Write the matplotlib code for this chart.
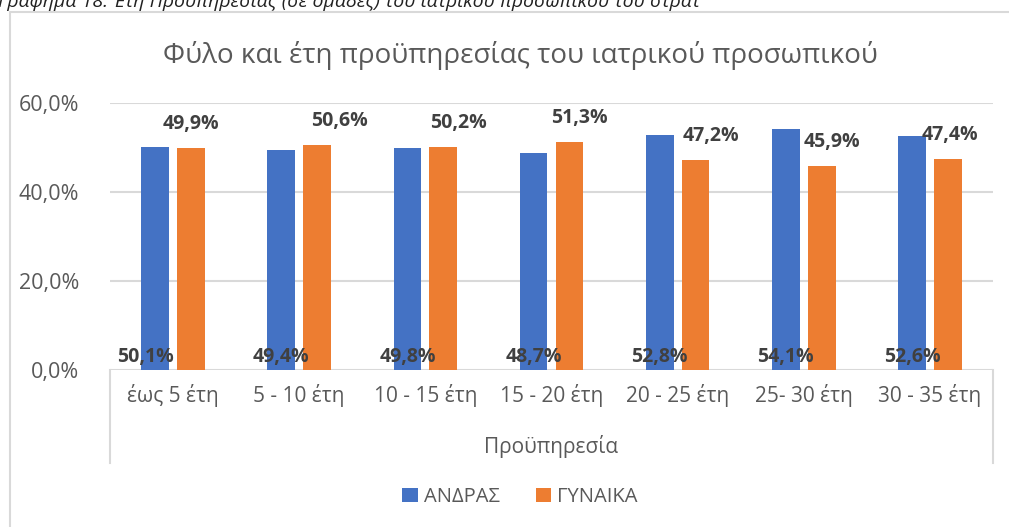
import numpy as np
import matplotlib.pyplot as plt
from matplotlib.lines import Line2D
from matplotlib.patches import Rectangle

categories = ["έως 5 έτη", "5 - 10 έτη", "10 - 15 έτη", "15 - 20 έτη",
              "20 - 25 έτη", "25- 30 έτη", "30 - 35 έτη"]
male = [50.1, 49.4, 49.8, 48.7, 52.8, 54.1, 52.6]
female = [49.9, 50.6, 50.2, 51.3, 47.2, 45.9, 47.4]
y_ticks = [0, 20, 40, 60]

# manual label nudges (pixels), as in the original Excel chart
male_label_dx = [-10, 0, 0, 0, 0, 0, 0]
female_label_dx = [0, 22, 15, 10, 15, 10, 2]

BLUE = "#4472C4"
ORANGE = "#ED7D31"
GRAY = "#595959"
GRID = "#D9D9D9"

plt.rcParams["font.family"] = ["Open Sans", "DejaVu Sans"]

W, H = 1009, 527
fig = plt.figure(figsize=(W / 100, H / 100), dpi=100)


def fx(px):
    return px / W


def fy(py):
    return 1 - py / H


# cropped caption above the chart (cut off in the original too)
fig.text(fx(-2), fy(7), "Γράφημα 18: Έτη Προϋπηρεσίας (σε ομάδες) του ιατρικού προσωπικού του στρατ",
         fontsize=14, style="italic", color="#222222", ha="left", va="baseline")

# chart area border
fig.patches.append(Rectangle((fx(10), fy(560)), fx(1040), fy(12) - fy(560),
                             transform=fig.transFigure, fill=False,
                             edgecolor=GRID, linewidth=1.5))

ax = fig.add_axes([fx(110), fy(370), fx(993 - 110), fy(103) - fy(370)])

x = np.arange(len(categories))
width = 0.22
off = 0.142
ax.bar(x - off, male, width, color=BLUE, label="ΑΝΔΡΑΣ", zorder=3)
ax.bar(x + off, female, width, color=ORANGE, label="ΓΥΝΑΙΚΑ", zorder=3)

for i in range(len(categories)):
    ax.annotate(f"{male[i]:.1f}%".replace(".", ","), xy=(x[i] - off, 0),
                xytext=(male_label_dx[i], 13), textcoords="offset pixels",
                ha="center", va="center", fontsize=14, fontweight="bold",
                color="#404040", zorder=4)
    ax.annotate(f"{female[i]:.1f}%".replace(".", ","), xy=(x[i] + off, female[i]),
                xytext=(female_label_dx[i], 24), textcoords="offset pixels",
                ha="center", va="center", fontsize=14, fontweight="bold",
                color="#404040", zorder=4)

ax.set_xlim(-0.5, len(categories) - 0.5)
ax.set_ylim(0, 60)
ax.set_yticks(y_ticks)
ax.set_yticklabels([f"{v:.1f}%".replace(".", ",") for v in y_ticks])
ax.set_xticks(x)
ax.set_xticklabels(categories)
ax.tick_params(axis="y", length=0, pad=22, labelsize=15.5, labelcolor=GRAY)
ax.tick_params(axis="x", length=0, pad=10, labelsize=15, labelcolor=GRAY)
ax.grid(axis="y", color=GRID, linewidth=1.5, zorder=0)
for s in ax.spines.values():
    s.set_visible(False)

# category box lines below the plot
for px in (110, 993):
    fig.add_artist(Line2D([fx(px), fx(px)], [fy(370), fy(463)],
                          transform=fig.transFigure, color=GRID, linewidth=1.5))

fig.text(fx(551), fy(447), "Προϋπηρεσία", fontsize=15, color=GRAY,
         ha="center", va="center")
fig.text(fx(520), fy(55), "Φύλο και έτη προϋπηρεσίας του ιατρικού προσωπικού",
         fontsize=20, color=GRAY, ha="center", va="center")

fig.legend(loc="center", bbox_to_anchor=(fx(520), fy(497)), ncol=2, frameon=False,
           fontsize=14.5, labelcolor=GRAY, handlelength=0.75, handleheight=0.75,
           handletextpad=0.3, columnspacing=1.8)

fig.savefig("out.png", dpi=100)
